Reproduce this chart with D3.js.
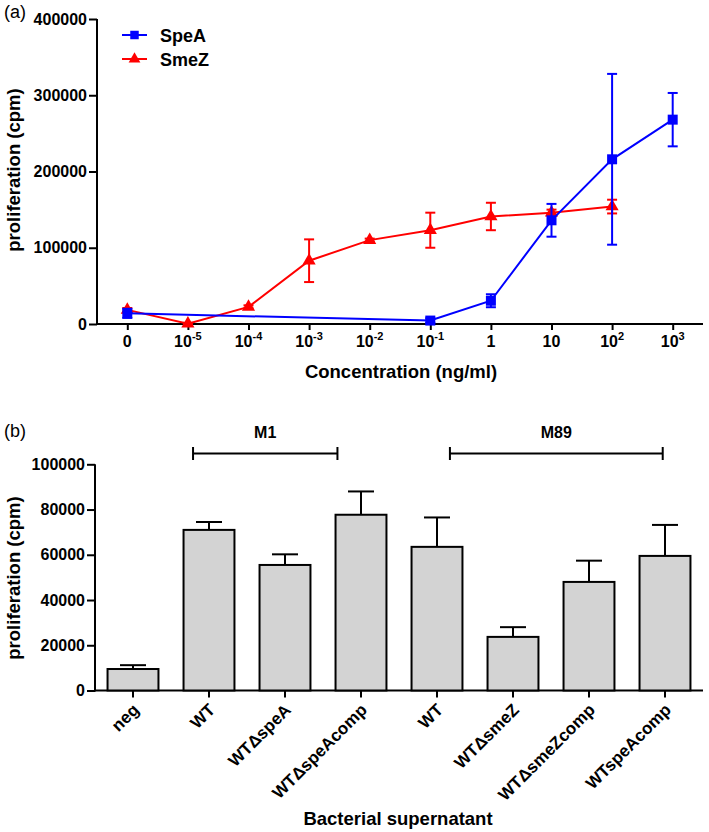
<!DOCTYPE html>
<html><head><meta charset="utf-8">
<script src="https://cdn.jsdelivr.net/npm/d3@7"></script>
<style>
body{margin:0;background:#fff;}
svg{display:block;font-family:"Liberation Sans",Arial,sans-serif;}
</style></head>
<body><svg id="c" width="709" height="832"></svg>
<script>
// ---------- Panel (a) data ----------
const concCats = ["0","1e-5","1e-4","1e-3","1e-2","1e-1","1","10","1e2","1e3"];
const concBase = ["0","10","10","10","10","10","1","10","10","10"];
const concExp  = ["","-5","-4","-3","-2","-1","","","2","3"];
const speACats = ["0","1e-1","1","10","1e2","1e3"];
const speAVals = [14000, 4500, 30500, 136000, 216000, 268000];
const speAErr  = [6000, 3000, 8500, 21500, 112000, 35000];
const smeZCats = ["0","1e-5","1e-4","1e-3","1e-2","1e-1","1","10","1e2"];
const smeZVals = [18500, 500, 22500, 83000, 110000, 123000, 141000, 146000, 154000];
const smeZErr  = [2500, 1000, 2000, 28000, 2000, 23000, 18000, 4000, 9000];
const yTicksA  = [0, 100000, 200000, 300000, 400000];

// ---------- Panel (b) data ----------
const strains = ["neg","WT","WT\u0394speA","WT\u0394speAcomp","WT","WT\u0394smeZ","WT\u0394smeZcomp","WTspeAcomp"];
const barVals = [9500, 71000, 55500, 77700, 63500, 23700, 48000, 59500];
const barErr  = [1700, 3500, 4700, 10300, 13000, 4300, 9400, 13700];
const yTicksB = [0, 20000, 40000, 60000, 80000, 100000];
const groupNames = ["M1","M89"];
const groupFrom  = [0.79, 4.17];
const groupTo    = [2.69, 6.97];

const svg = d3.select("#c");
const FONT = '"Liberation Sans",Arial,sans-serif';
const BLUE = "#0000ff", RED = "#ff0000";

// ================= Panel (a) =================
const xA = d3.scalePoint().domain(concCats).range([97, 703]).padding(0.5);
const yA = d3.scaleLinear().domain([0, 400000]).range([324, 19]);

const gA = svg.append("g");
const yAxA = gA.append("g").attr("transform","translate(97,0)")
  .call(d3.axisLeft(yA).tickValues(yTicksA).tickFormat(d3.format("d")).tickSize(8).tickPadding(2));
const xAxA = gA.append("g").attr("transform","translate(0,324)")
  .call(d3.axisBottom(xA).tickSize(6).tickFormat(""));
[yAxA, xAxA].forEach(ax=>{
  ax.select(".domain").attr("stroke","#000").attr("stroke-width",2);
  ax.selectAll(".tick line").attr("stroke","#000").attr("stroke-width",2);
});
yAxA.select(".domain").attr("d","M0,19V325");
xAxA.select(".domain").attr("d","M96,0H703");
yAxA.selectAll(".tick text").attr("font-family",FONT).attr("font-size",16).attr("font-weight","bold").attr("fill","#000");

const xl = gA.append("g");
concCats.forEach((c,i)=>{
  const t = xl.append("text").attr("x", xA(c)).attr("y", 347)
    .attr("text-anchor","middle").attr("font-size",16).attr("font-weight","bold")
    .attr("font-family",FONT);
  t.append("tspan").text(concBase[i]);
  if (concExp[i]) t.append("tspan").attr("font-size",11).attr("dy",-7).text(concExp[i]);
});
gA.append("text").attr("x",401).attr("y",378).attr("text-anchor","middle")
  .attr("font-size",18.5).attr("font-weight","bold").text("Concentration (ng/ml)");
gA.append("text").attr("transform","translate(20,170) rotate(-90)").attr("text-anchor","middle")
  .attr("font-size",18.5).attr("font-weight","bold").text("proliferation (cpm)");
gA.append("text").attr("x",4).attr("y",18).attr("font-size",18).text("(a)");

function drawSeries(g, cats, vals, errs, color, marker){
  const pts = cats.map((c,i)=>({x:xA(c), y:yA(vals[i]), lo:yA(vals[i]-errs[i]), hi:yA(vals[i]+errs[i])}));
  g.append("path").datum(pts).attr("fill","none").attr("stroke",color).attr("stroke-width",2)
    .attr("d", d3.line().x(d=>d.x).y(d=>d.y));
  const eb = g.append("g").attr("stroke",color).attr("stroke-width",2);
  pts.forEach(p=>{
    eb.append("line").attr("x1",p.x).attr("x2",p.x).attr("y1",p.lo).attr("y2",p.hi);
    eb.append("line").attr("x1",p.x-5).attr("x2",p.x+5).attr("y1",p.lo).attr("y2",p.lo);
    eb.append("line").attr("x1",p.x-5).attr("x2",p.x+5).attr("y1",p.hi).attr("y2",p.hi);
  });
  g.selectAll(null).data(pts).enter().append("path")
    .attr("transform",d=>`translate(${d.x},${d.y})`)
    .attr("fill",color)
    .attr("d", d3.symbol().type(marker).size(marker===d3.symbolSquare?100:75));
}
drawSeries(gA, smeZCats, smeZVals, smeZErr, RED, d3.symbolTriangle);
drawSeries(gA, speACats, speAVals, speAErr, BLUE, d3.symbolSquare);

const leg = gA.append("g");
[["SpeA",BLUE,d3.symbolSquare,35],["SmeZ",RED,d3.symbolTriangle,59]].forEach(([n,c,s,y])=>{
  leg.append("line").attr("x1",122).attr("x2",147).attr("y1",y).attr("y2",y).attr("stroke",c).attr("stroke-width",2);
  leg.append("path").attr("transform",`translate(134.5,${y})`).attr("fill",c)
    .attr("d",d3.symbol().type(s).size(s===d3.symbolSquare?72:60));
  leg.append("text").attr("x",160).attr("y",y+7).attr("font-size",18).attr("font-weight","bold").text(n);
});

// ================= Panel (b) =================
const xB = d3.scaleBand().domain(d3.range(strains.length)).range([95, 703]).paddingInner(0.33).paddingOuter(0.165);
const yB = d3.scaleLinear().domain([0, 100000]).range([690.5, 464.3]);
const gB = svg.append("g");
const yAxB = gB.append("g").attr("transform","translate(95,0)")
  .call(d3.axisLeft(yB).tickValues(yTicksB).tickFormat(d3.format("d")).tickSize(8).tickPadding(2));
const xAxB = gB.append("g").attr("transform","translate(0,690.5)")
  .call(d3.axisBottom(xB).tickSize(7).tickFormat(""));
[yAxB, xAxB].forEach(ax=>{
  ax.select(".domain").attr("stroke","#000").attr("stroke-width",2);
  ax.selectAll(".tick line").attr("stroke","#000").attr("stroke-width",2);
});
yAxB.select(".domain").attr("d","M0,464.3V691.5");
xAxB.select(".domain").attr("d","M94,0H703");
yAxB.selectAll(".tick text").attr("font-family",FONT).attr("font-size",16).attr("font-weight","bold").attr("fill","#000");

gB.selectAll("rect.bar").data(barVals).enter().append("rect")
  .attr("x",(d,i)=>xB(i)).attr("width",xB.bandwidth())
  .attr("y",d=>yB(d)).attr("height",d=>yB(0)-yB(d))
  .attr("fill","#d3d3d3").attr("stroke","#000").attr("stroke-width",2);
const ebB = gB.append("g").attr("stroke","#000").attr("stroke-width",2);
barVals.forEach((v,i)=>{
  const cx = xB(i)+xB.bandwidth()/2;
  ebB.append("line").attr("x1",cx).attr("x2",cx).attr("y1",yB(v)).attr("y2",yB(v+barErr[i]));
  ebB.append("line").attr("x1",cx-13).attr("x2",cx+13).attr("y1",yB(v+barErr[i])).attr("y2",yB(v+barErr[i]));
});
strains.forEach((s,i)=>{
  const cx = xB(i)+xB.bandwidth()/2;
  gB.append("text").attr("transform",`translate(${cx+7},${711}) rotate(-45)`)
    .attr("text-anchor","end").attr("font-size",17).attr("font-weight","bold").text(s);
});
gB.append("text").attr("x",398).attr("y",825).attr("text-anchor","middle")
  .attr("font-size",18.5).attr("font-weight","bold").text("Bacterial supernatant");
gB.append("text").attr("transform","translate(20,578) rotate(-90)").attr("text-anchor","middle")
  .attr("font-size",18.5).attr("font-weight","bold").text("proliferation (cpm)");
gB.append("text").attr("x",4).attr("y",437).attr("font-size",18).text("(b)");

const xIdx = d3.scaleLinear().domain([0, strains.length-1])
  .range([xB(0)+xB.bandwidth()/2, xB(strains.length-1)+xB.bandwidth()/2]);
groupNames.forEach((n,i)=>{
  const x1 = xIdx(groupFrom[i]), x2 = xIdx(groupTo[i]);
  const bg = gB.append("g").attr("stroke","#000").attr("stroke-width",2);
  bg.append("line").attr("x1",x1).attr("x2",x2).attr("y1",453.5).attr("y2",453.5);
  bg.append("line").attr("x1",x1).attr("x2",x1).attr("y1",447).attr("y2",460);
  bg.append("line").attr("x1",x2).attr("x2",x2).attr("y1",447).attr("y2",460);
  gB.append("text").attr("x",(x1+x2)/2).attr("y",438).attr("text-anchor","middle")
    .attr("font-size",16).attr("font-weight","bold").text(n);
});
</script></body></html>
